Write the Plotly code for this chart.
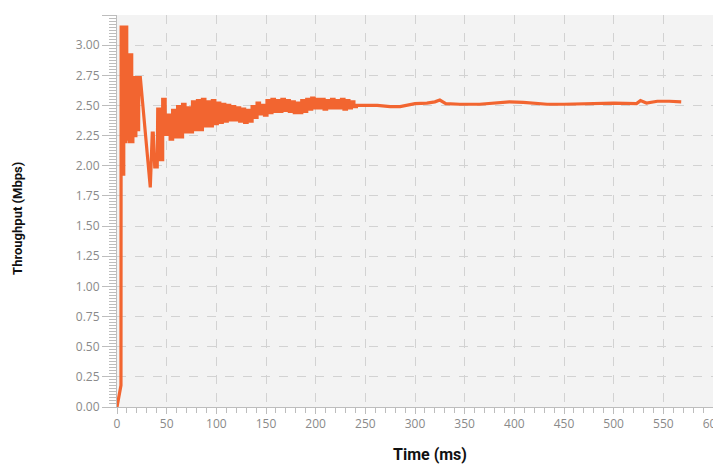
import plotly.graph_objects as go

# ---- data ----
# start-up transient (ms, Mbps)
start_t = [0, 4, 4.2, 5.5, 5.6, 6.8, 6.9, 8.0, 8.1, 8.8, 8.9, 9.8, 9.9, 11.0, 11.1, 12.3, 12.4, 13.5, 13.6, 14.8,
           14.9, 16.0, 16.1, 17.5, 17.6, 19.0, 19.1, 20.5, 20.6, 21.8, 21.9, 23.5, 33.5, 35.5, 36.5, 38.0, 40.5]
start_v = [0, 0.18, 3.15, 3.15, 1.93, 1.93, 3.15, 3.15, 2.20, 2.20, 3.15, 3.15, 2.22, 2.22, 2.92, 2.92, 2.20, 2.20, 2.92, 2.92,
           2.20, 2.20, 2.73, 2.73, 2.25, 2.25, 2.73, 2.73, 2.30, 2.30, 2.73, 2.73, 1.82, 2.27, 2.27, 1.99, 1.99]

# oscillation phase: period start (ms), upper and lower level (Mbps)
osc_t = [41, 46, 51, 56, 61, 66, 71, 76, 81, 86, 91, 96, 101, 106, 111, 116, 121, 126, 131, 136,
         141, 146, 151, 156, 161, 166, 171, 176, 181, 186, 191, 196, 201, 206, 211, 216, 221, 226, 231, 236]
osc_hi = [2.47, 2.55, 2.42, 2.46, 2.49, 2.51, 2.48, 2.53, 2.54, 2.55, 2.53, 2.54, 2.52, 2.51, 2.50, 2.49, 2.48, 2.47, 2.46, 2.49,
          2.52, 2.50, 2.54, 2.55, 2.54, 2.55, 2.54, 2.53, 2.52, 2.54, 2.55, 2.56, 2.55, 2.55, 2.54, 2.55, 2.54, 2.55, 2.54, 2.53]
osc_lo = [2.05, 2.26, 2.22, 2.24, 2.24, 2.28, 2.28, 2.30, 2.30, 2.33, 2.33, 2.35, 2.36, 2.37, 2.38, 2.38, 2.37, 2.36, 2.37, 2.40,
          2.43, 2.42, 2.44, 2.45, 2.45, 2.46, 2.45, 2.44, 2.44, 2.45, 2.47, 2.48, 2.48, 2.47, 2.48, 2.48, 2.48, 2.47, 2.48, 2.49]
osc_half = 2.5  # ms spent at each level within one period

# steady state (ms, Mbps)
steady_t = [241, 250, 262, 275, 285, 300, 312, 320, 325, 331, 345, 365, 383, 395, 409, 433, 450, 466, 483, 500, 523, 527, 533, 544, 556, 568]
steady_v = [2.50, 2.50, 2.50, 2.49, 2.49, 2.515, 2.52, 2.53, 2.545, 2.515, 2.51, 2.51, 2.525, 2.53, 2.525, 2.51, 2.51, 2.515, 2.52, 2.52, 2.515, 2.54, 2.52, 2.535, 2.535, 2.53]

x_ticks = [0, 50, 100, 150, 200, 250, 300, 350, 400, 450, 500, 550, 600]
y_ticks = [0.00, 0.25, 0.50, 0.75, 1.00, 1.25, 1.50, 1.75, 2.00, 2.25, 2.50, 2.75, 3.00, 3.25]

# ---- assemble series (square wave during the oscillation phase) ----
xs = list(start_t)
ys = list(start_v)
for t, hi, lo in zip(osc_t, osc_hi, osc_lo):
    xs += [t, t + osc_half, t + osc_half, t + 2 * osc_half]
    ys += [hi, hi, lo, lo]
xs += steady_t
ys += steady_v

ORANGE = "#F26530"
GRID = "#d2d2d2"
AXIS = "#bdbdbd"
TICKFONT = dict(family="Open Sans, sans-serif", size=12, color="#8a8a8a")

fig = go.Figure()
fig.add_trace(go.Scatter(x=xs, y=ys, mode="lines", line=dict(color=ORANGE, width=3.2),
                         hoverinfo="x+y", showlegend=False))

# page body has an 8px default margin, so the figure is sized to fit inside it
fig.update_layout(
    width=713, height=460,
    margin=dict(l=109, r=8, t=7, b=61, autoexpand=False),
    paper_bgcolor="white",
    plot_bgcolor="#f3f3f3",
    showlegend=False,
)
fig.update_xaxes(
    range=[0, 600], tickmode="array", tickvals=x_ticks, ticktext=[str(v) for v in x_ticks],
    showgrid=True, gridcolor=GRID, griddash="dash", gridwidth=1,
    showline=True, linecolor=AXIS, linewidth=1, zeroline=False, automargin=False,
    ticks="outside", ticklen=6, tickcolor=AXIS, ticklabeloverflow="allow",
    minor=dict(dtick=10, tick0=0, ticks="outside", ticklen=5, tickcolor=AXIS, showgrid=False),
    tickfont=TICKFONT,
)
fig.update_yaxes(
    range=[0, 3.25], tickmode="array", tickvals=y_ticks, ticktext=[f"{v:.2f}" for v in y_ticks],
    showgrid=True, gridcolor=GRID, griddash="dash", gridwidth=1,
    showline=True, linecolor=AXIS, linewidth=1, zeroline=False, automargin=False,
    ticks="outside", ticklen=14, tickcolor=AXIS,
    minor=dict(dtick=0.025, tick0=0, ticks="outside", ticklen=7, tickcolor=AXIS, showgrid=False),
    tickfont=TICKFONT,
)

fig.add_annotation(text="<b>Time (ms)</b>", xref="paper", yref="paper", x=0.525, y=-0.122,
                   xanchor="center", yanchor="middle", showarrow=False,
                   font=dict(family="Roboto, sans-serif", size=16, color="#111111"))
fig.add_annotation(text="<b>Throughput (Mbps)</b>", xref="paper", yref="paper", x=-0.166, y=0.48,
                   xanchor="center", yanchor="middle", textangle=-90, showarrow=False,
                   font=dict(family="Roboto, sans-serif", size=13, color="#111111"))

fig.write_html("out.html")
